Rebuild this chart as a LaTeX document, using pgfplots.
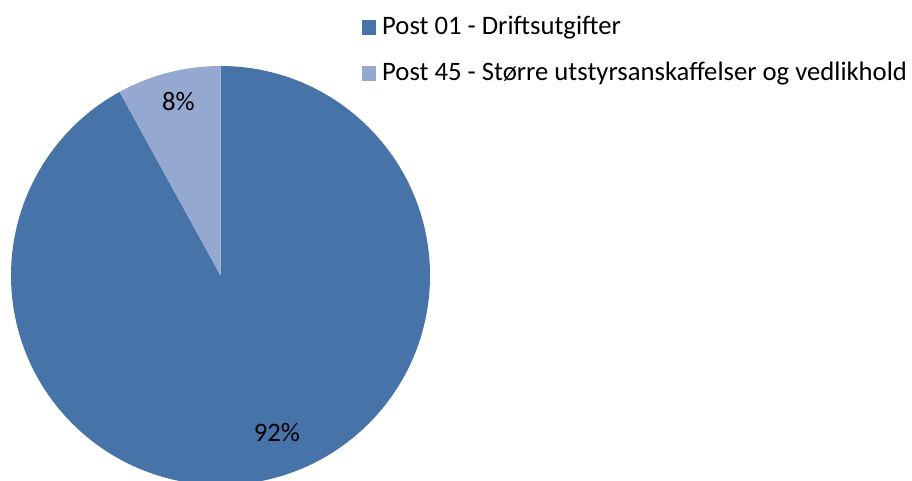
\documentclass[border=0pt]{standalone}
\usepackage{pgfplots}
\usepackage{pgfplotstable}
\pgfplotsset{compat=1.18}
\usepackage{fontspec}
\setmainfont{Carlito}
\definecolor{cA}{HTML}{4673A8}
\definecolor{cB}{HTML}{95A9D0}
\pgfplotstableread{
label value
1 92
2 8
}\piedata
\begin{document}
\begin{tikzpicture}
\begin{axis}[
  anchor=origin, at={(0,0)},
  x=1pt, y=1pt,
  xmin=0, xmax=912, ymin=0, ymax=480,
  hide axis, clip=true,
]
\pgfplotstablegetelem{0}{value}\of\piedata \edef\va{\pgfplotsretval}
\pgfplotstablegetelem{1}{value}\of\piedata \edef\vb{\pgfplotsretval}
\pgfmathsetmacro{\angB}{90+3.6*\vb}
\fill[cA] (axis cs:220.5,204.5) -- (axis cs:220.5,414) arc[start angle=90, end angle={\angB-360}, radius=209.5pt] -- cycle;
\fill[cB] (axis cs:220.5,204.5) -- (axis cs:220.5,414) arc[start angle=90, end angle=\angB, radius=209.5pt] -- cycle;
\node[inner sep=0pt, font=\fontsize{26.67}{32}\selectfont] at (axis cs:178.5,378) {\vb\%};
\node[inner sep=0pt, font=\fontsize{26.67}{32}\selectfont] at (axis cs:277,47) {\va\%};
% legend
\fill[cA] (axis cs:361.5,460) rectangle (axis cs:376,445);
\fill[cB] (axis cs:361.5,414) rectangle (axis cs:376,399);
\node[anchor=base west, inner sep=0pt, font=\fontsize{26.67}{32}\selectfont] at (axis cs:382,445) {Post 01 - Driftsutgifter};
\node[anchor=base west, inner sep=0pt, font=\fontsize{26.67}{32}\selectfont] at (axis cs:382,399) {Post 45 - Større utstyrsanskaffelser og vedlikhold};
\end{axis}
\pgfresetboundingbox
\path (0,0) rectangle (912pt,480pt);
\end{tikzpicture}
\end{document}
